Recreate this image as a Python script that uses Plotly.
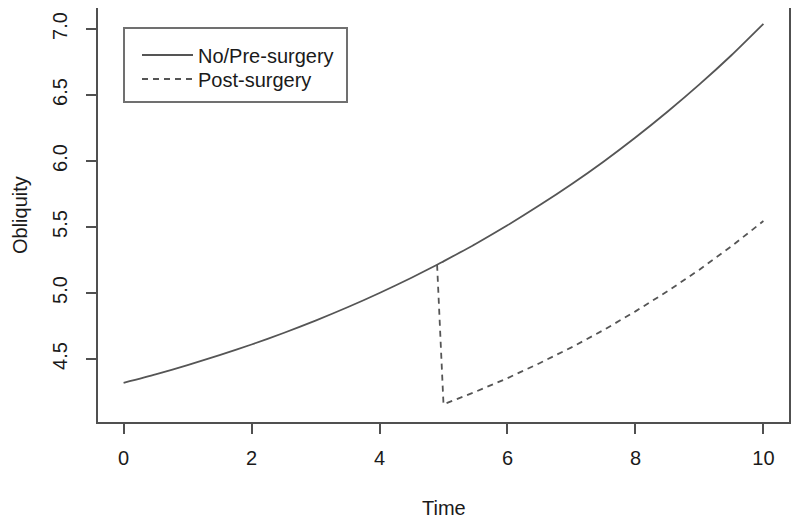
import plotly.graph_objects as go

# Data
time_pre = [0, 0.5, 1, 1.5, 2, 2.5, 3, 3.5, 4, 4.5, 4.9, 5, 5.5, 6, 6.5, 7, 7.5, 8, 8.5, 9, 9.5, 10]
obliq_pre = [4.32, 4.384, 4.454, 4.529, 4.61, 4.697, 4.791, 4.892, 5.0, 5.116, 5.214, 5.24, 5.372,
             5.513, 5.664, 5.824, 5.995, 6.178, 6.373, 6.58, 6.801, 7.039]

time_post = [4.9, 5, 5.5, 6, 6.5, 7, 7.5, 8, 8.5, 9, 9.5, 10]
obliq_post = [5.214, 4.157, 4.252, 4.355, 4.468, 4.588, 4.719, 4.861, 5.013, 5.177, 5.354, 5.545]

x_ticks = [0, 2, 4, 6, 8, 10]
y_ticks = [4.5, 5.0, 5.5, 6.0, 6.5, 7.0]
y_tick_text = ["4.5", "5.0", "5.5", "6.0", "6.5", "7.0"]

LINE = "#555555"
AX = "#505050"
FONT = dict(family="Liberation Sans, Arial, sans-serif", size=20, color="#1a1a1a")

# page is drawn with an 8px body margin; plot area target (in figure px): x 90..781, y 0..414
ML, MT, PW, PH = 90, 0, 691, 414

fig = go.Figure()
fig.add_trace(go.Scatter(x=time_pre, y=obliq_pre, mode="lines", name="No/Pre-surgery",
                         legend="legend",
                         line=dict(color=LINE, width=1.8, shape="spline", smoothing=0.6)))
fig.add_trace(go.Scatter(x=time_post, y=obliq_post, mode="lines", name="Post-surgery",
                         legend="legend2",
                         line=dict(color=LINE, width=1.8, dash="6px,5px")))

# legend frame
fig.add_shape(type="rect", xref="paper", yref="paper",
              x0=26 / PW, x1=249 / PW,
              y0=1 - 94 / PH, y1=1 - 20 / PH,
              line=dict(color="#707070", width=2), fillcolor="rgba(0,0,0,0)")

fig.add_annotation(text="Time", xref="paper", yref="paper", x=0.5, y=-86 / PH,
                   xanchor="center", yanchor="middle", showarrow=False, font=FONT)
fig.add_annotation(text="Obliquity", xref="paper", yref="paper", x=-78 / PW, y=0.5,
                   xanchor="center", yanchor="middle", showarrow=False, textangle=-90, font=FONT)

leg_common = dict(xanchor="left", yanchor="middle", bgcolor="rgba(0,0,0,0)", borderwidth=0,
                  font=FONT, itemwidth=51)

fig.update_layout(
    width=800, height=520,
    margin=dict(l=ML, r=800 - ML - PW, t=MT, b=520 - MT - PH),
    paper_bgcolor="white", plot_bgcolor="white",
    font=FONT,
    showlegend=True,
    legend=dict(x=39 / PW, y=1 - 47 / PH, **leg_common),
    legend2=dict(x=39 / PW, y=1 - 71 / PH, **leg_common),
    xaxis=dict(range=[-0.4, 10.4], tickvals=x_ticks, ticks="outside", ticklen=10,
               tickcolor=AX, tickwidth=1.5, showline=True, linecolor=AX, linewidth=1.5,
               mirror=True, showgrid=False, zeroline=False, ticklabelstandoff=7,
               automargin=False),
    yaxis=dict(range=[4.023, 7.159], tickvals=y_ticks, ticktext=y_tick_text, ticks="outside",
               ticklen=10, tickcolor=AX, tickwidth=1.5, showline=True, linecolor=AX,
               linewidth=1.5, mirror=True, showgrid=False, zeroline=False, tickangle=-90,
               ticklabelstandoff=11, automargin=False),
)

fig.write_html("out.html")
